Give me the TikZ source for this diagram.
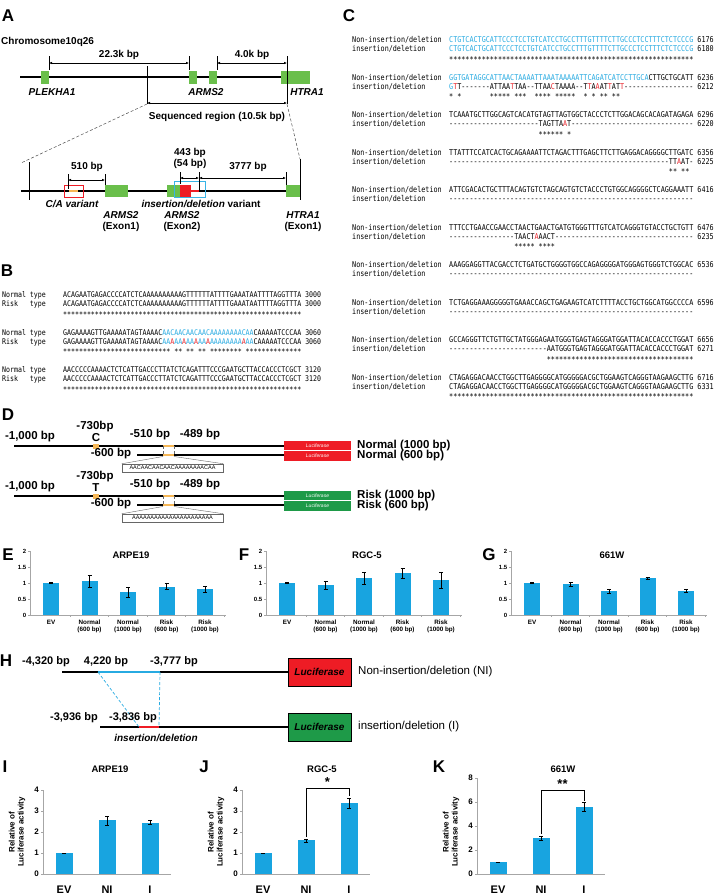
\documentclass[tikz,border=0pt]{standalone}
\usepackage{fontspec}
\setmainfont{Liberation Sans}
\setmonofont{DejaVu Sans Mono}[FakeStretch=0.845]
\usepackage{tikz}
\usetikzlibrary{arrows.meta, positioning}
\definecolor{geneGreen}{HTML}{6ABF4B}
\definecolor{lucGreen}{HTML}{1E9A48}
\definecolor{lucRed}{HTML}{EE1C25}
\definecolor{seqCyan}{HTML}{27AAE1}
\definecolor{seqRed}{HTML}{E8242B}
\definecolor{barBlue}{HTML}{18A4E0}
\definecolor{varOrange}{HTML}{F6B756}
\definecolor{axisGray}{HTML}{A6A6A6}
\definecolor{boxCyan}{HTML}{39B4E6}
\ExplSyntaxOn
\cs_new:Npn \rep #1#2 { \prg_replicate:nn {#1} {#2} }
\ExplSyntaxOff
\newcommand\gp{\hphantom{*}}
\newcommand\cy[1]{\textcolor{seqCyan}{#1}}
\newcommand\rd[1]{\textcolor{seqRed}{#1}}
\tikzset{
  panel/.style={inner sep=0, font=\fontsize{17}{17}\selectfont\bfseries},
  lbl/.style={inner sep=0, align=center, font=\fontsize{10}{11}\selectfont\bfseries},
  gname/.style={inner sep=0, font=\fontsize{10}{11}\selectfont\bfseries\itshape},
  dlbl/.style={inner sep=0, font=\fontsize{11.5}{12}\selectfont\bfseries},
  seqB/.style={inner sep=0, anchor=base west, font=\ttfamily\fontsize{7.8}{8}\selectfont},
  seqC/.style={inner sep=0, anchor=base west, font=\ttfamily\fontsize{8}{8}\selectfont},
  gene/.style={fill=geneGreen, inner sep=0, minimum height=13pt},
  dimarrow/.style={{Latex[length=3pt,width=2.6pt]}-{Latex[length=3pt,width=2.6pt]}, line width=0.6pt},
  dimtick/.style={line width=0.5pt},
  luc/.style={inner sep=0, minimum width=67pt, minimum height=9.5pt, text=white,
    font=\fontsize{5}{5}\selectfont\itshape},
  motif/.style={draw=black!60, line width=0.5pt, inner sep=0, minimum width=101pt,
    minimum height=8pt, font=\fontsize{5.5}{6}\selectfont},
  err/.style={line width=0.5pt},
  axisln/.style={draw=axisGray, line width=0.6pt},
  ttl/.style={inner sep=0, font=\fontsize{9.5}{10}\selectfont\bfseries},
  tk/.style={inner sep=0, font=\fontsize{6}{6}\selectfont\bfseries},
  tkb/.style={inner sep=0, font=\fontsize{8}{8}\selectfont\bfseries},
  cat/.style={inner sep=0, align=center, anchor=north, font=\fontsize{6.3}{7}\selectfont\bfseries},
  catb/.style={inner sep=0, font=\fontsize{11}{11}\selectfont\bfseries},
  ylab/.style={inner sep=0, rotate=90, align=center, font=\fontsize{8}{9}\selectfont\bfseries},
  hluc/.style={draw, line width=0.5pt, minimum width=63pt, minimum height=28pt, inner sep=0,
    font=\fontsize{10}{10}\selectfont\bfseries\itshape},
  hlbl/.style={inner sep=0, font=\fontsize{11}{12}\selectfont\bfseries},
}
\begin{document}
\begin{tikzpicture}[x=1pt, y=-1pt]
  \useasboundingbox (0,0) rectangle (713,895);

  % A: locus
  \node[panel] (pA) at (8,16) {A};
  \node[lbl, anchor=west] (chrom) at (1,42) {Chromosome10q26};
  \draw[line width=2.2pt] (20,77) -- (282,77);
  \node[gene, minimum width=8pt] (plek) at (45,77) {};
  \node[gene, minimum width=8pt] (arma) at (193,77) {};
  \node[gene, minimum width=8pt] (armb) at (213,77) {};
  \node[gene, minimum width=29pt] (htra) at (295.5,77) {};
  \draw[dimtick] (49,56) -- (49,70) (189,56) -- (189,70) (217,56) -- (217,70)
    (287,56) -- (287,104) (147,66) -- (147,104);
  \draw[dimarrow] (49,63) -- node[lbl, above=3.5pt] (d223) {22.3k bp} (189,63);
  \draw[dimarrow] (217,63) -- node[lbl, above=3.5pt] (d40) {4.0k bp} (287,63);
  \node[gname] (nplek) at (52,92) {PLEKHA1};
  \node[gname] (narm) at (206,92) {ARMS2};
  \node[gname] (nhtra) at (307,92) {HTRA1};
  \draw[dimarrow] (147,103) -- (287,103);
  \node[lbl] (seqreg) at (217,117) {Sequenced region (10.5k bp)};
  \draw[densely dashed, line width=0.5pt, black!70] (147,104) -- (21,163) (287,104) -- (300,159);

  % A: sequenced region
  \draw[line width=2pt] (21,191) -- (300,191);
  \draw[dimtick] (29,162) -- (29,200) (300,159) -- (300,200);
  \node[draw=lucRed, line width=0.8pt, minimum width=19pt, minimum height=12pt, inner sep=0] (cabox) at (73.5,191) {};
  \draw[varOrange, line width=2.5pt] (69,191) -- (78,191);
  \node[gene, minimum width=23pt, minimum height=12pt] (exa) at (116.5,191) {};
  \node[gene, minimum width=13pt, minimum height=12pt] (exb) at (173.5,191) {};
  \node[fill=lucRed, inner sep=0, minimum width=11pt, minimum height=13pt] (indel) at (185.5,191) {};
  \draw[lucRed, line width=1.5pt] (indel.east) -- (199,191);
  \node[draw=boxCyan, line width=1pt, inner sep=0, minimum width=31pt, minimum height=16pt] (indelbox) at (189.5,189.5) {};
  \node[gene, minimum width=14pt, minimum height=12pt] (exc) at (293,191) {};
  \draw[dimtick] (68,174) -- (68,189) (105,174) -- (105,185) (180,172) -- (180,184)
    (199,172) -- (199,191) (286,172) -- (286,185);
  \draw[dimarrow] (68,180) -- (105,180);
  \draw[dimarrow] (180,178) -- (199,178);
  \draw[dimarrow] (199,178) -- (286,178);
  \node[lbl] (l510) at (87,167) {510 bp};
  \node[lbl] (l443) at (190,158.5) {443 bp\\(54 bp)};
  \node[lbl] (l3777) at (248,167) {3777 bp};
  \node[gname] (lca) at (72,204) {C/A variant};
  \node[lbl] (lindel) at (201,204) {\textit{insertion/deletion} variant};
  \node[lbl] (lexa) at (121,222) {\textit{ARMS2}\\(Exon1)};
  \node[lbl] (lexb) at (182,222) {\textit{ARMS2}\\(Exon2)};
  \node[lbl] (lexc) at (303,222) {\textit{HTRA1}\\(Exon1)};

  % B: alignment
  \node[panel] (pB) at (7,271) {B};
  \foreach \k/\nrm/\rsk/\st in {
    0/{ACAGAATGAGACCCCATCTCAAAAAAAAAAGTTTTTTATTTTGAAATAATTTTAGGTTTA}/{ACAGAATGAGACCCCATCTCAAAAAAAAAAGTTTTTTATTTTGAAATAATTTTAGGTTTA}/{\rep{60}{*}},
    1/{GAGAAAAGTTGAAAAATAGTAAAAC\cy{AACAACAACAACAAAAAAAACAA}CAAAAATCCCAA}/{GAGAAAAGTTGAAAAATAGTAAAAC\cy{AA}\rd{A}\cy{AA}\rd{A}\cy{AA}\rd{A}\cy{AA}\rd{A}\cy{AAAAAAAA}\rd{A}\cy{AA}CAAAAATCCCAA}/{\rep{27}{*}\gp**\gp**\gp**\gp\rep{8}{*}\gp\rep{14}{*}},
    2/{AACCCCCAAAACTCTCATTGACCCTTATCTCAGATTTCCCGAATGCTTACCACCCTCGCT}/{AACCCCCAAAACTCTCATTGACCCTTATCTCAGATTTCCCGAATGCTTACCACCCTCGCT}/{\rep{60}{*}}}{
    \node[seqB] (bn\k) at (2,{297.9+37.5*\k}) {Normal\gp type};
    \node[seqB] (br\k) at (2,{306.9+37.5*\k}) {Risk\gp\gp\gp type};
    \node[seqB] (bsn\k) at (63,{297.9+37.5*\k}) {\nrm\gp\the\numexpr3000+60*\k\relax};
    \node[seqB] (bsr\k) at (63,{306.9+37.5*\k}) {\rsk\gp\the\numexpr3000+60*\k\relax};
    \node[seqB] (bst\k) at (63,{317.4+37.5*\k}) {\st};
  }

  % C: alignment
  \node[panel] (pC) at (349,16) {C};
  \foreach \k/\non/\nn/\ins/\ni/\st in {
    0/{\cy{CTGTCACTGCATTCCCTCCTGTCATCCTGCCTTTGTTTTCTTGCCCTCCTTTCTCTCCCG}}/6176/{\cy{CTGTCACTGCATTCCCTCCTGTCATCCTGCCTTTGTTTTCTTGCCCTCCTTTCTCTCCCG}}/6180/{\rep{60}{*}},
    1/{\cy{GGTGATAGGCATTAACTAAAATTAAATAAAAATTCAGATCATCCTTGCA}CTTGCTGCATT}/6236/{\cy{G}\rd{T}T\rep{7}{-}ATTAA\rd{T}TAA--TTAA\rd{C}TAAAA--T\rd{T}A\rd{A}AT\rd{T}AT\rd{T}\rep{17}{-}}/6212/{*\gp*\rep{7}{\gp}*****\gp***\gp\gp****\gp*****\gp\gp*\gp*\gp**\gp**},
    2/{TCAAATGCTTGGCAGTCACATGTAGTTAGTGGCTACCCTCTTGGACAGCACAGATAGAGA}/6296/{\rep{22}{-}TAGTTA\rd{A}T\rep{30}{-}}/6220/{\rep{22}{\gp}******\gp*},
    3/{TTATTTCCATCACTGCAGAAAATTCTAGACTTTGAGCTTCTTGAGGACAGGGGCTTGATC}/6356/{\rep{54}{-}TT\rd{A}AT-}/6225/{\rep{54}{\gp}**\gp**},
    4/{ATTCGACACTGCTTTACAGTGTCTAGCAGTGTCTACCCTGTGGCAGGGGCTCAGGAAATT}/6416/{\rep{60}{-}}/{}/{},
    5/{TTTCCTGAACCGAACCTAACTGAACTGATGTGGGTTTGTCATCAGGGTGTACCTGCTGTT}/6476/{\rep{16}{-}TAACT\rd{A}AACT\rep{34}{-}}/6235/{\rep{16}{\gp}*****\gp****},
    6/{AAAGGAGGTTACGACCTCTGATGCTGGGGTGGCCAGAGGGGATGGGAGTGGGTCTGGCAC}/6536/{\rep{60}{-}}/{}/{},
    7/{TCTGAGGAAAGGGGGTGAAACCAGCTGAGAAGTCATCTTTTACCTGCTGGCATGGCCCCA}/6596/{\rep{60}{-}}/{}/{},
    8/{GCCAGGGTTCTGTTGCTATGGGAGAATGGGTGAGTAGGGATGGATTACACCACCCTGGAT}/6656/{\rep{24}{-}AATGGGTGAGTAGGGATGGATTACACCACCCTGGAT}/6271/{\rep{24}{\gp}\rep{36}{*}},
    9/{CTAGAGGACAACCTGGCTTGAGGGGCATGGGGGACGCTGGAAGTCAGGGTAAGAAGCTTG}/6716/{CTAGAGGACAACCTGGCTTGAGGGGCATGGGGGACGCTGGAAGTCAGGGTAAGAAGCTTG}/6331/{\rep{60}{*}}}{
    \node[seqC] (cl\k) at (352,{42.9+37.5*\k}) {Non-insertion/deletion};
    \node[seqC] (cm\k) at (352,{51.9+37.5*\k}) {insertion/deletion};
    \node[seqC] (cn\k) at (449,{42.9+37.5*\k}) {\non\gp\nn};
    \node[seqC] (ci\k) at (449,{51.9+37.5*\k}) {\ins\gp\ni};
    \node[seqC] (cs\k) at (449,{62.4+37.5*\k}) {\st};
  }

  % D: constructs
  \node[panel] (pD) at (8,415) {D};
  \foreach \dy/\nt/\lc/\nm/\mt in {0/C/lucRed/Normal/AACAACAACAACAAAAAAAACAA,
      50/T/lucGreen/Risk/AAAAAAAAAAAAAAAAAAAAAA}{
    \begin{scope}[shift={(0,\dy)}]
      \draw[line width=1.3pt] (14,446) -- (284,446);
      \draw[line width=1.3pt] (137,455) -- (284,455);
      \fill[varOrange] (93,443.5) rectangle (99,448.5);
      \draw[varOrange, line width=2.5pt] (163,446) -- (174,446) (163,455) -- (174,455);
      \draw[densely dashed, line width=0.4pt, black!60] (163,446) -- (163,455) (174,446) -- (174,455);
      \node[motif] (mt\nm) at (172.5,468) {\mt};
      \draw[line width=0.4pt, black!60] (163,456.5) -- (mt\nm.north west) (174,456.5) -- (mt\nm.north east);
      \node[luc, fill=\lc] (lucl\nm) at (317.5,445.7) {Luciferase};
      \node[luc, fill=\lc, below=0.5pt of lucl\nm] (lucs\nm) {Luciferase};
      \node[dlbl, anchor=west] (nl\nm) at (357,446) {\nm{} (1000 bp)};
      \node[dlbl, anchor=west] (ns\nm) at (357,456) {\nm{} (600 bp)};
      \node[dlbl] (p1000\nm) at (30,437) {-1,000 bp};
      \node[dlbl] (p730\nm) at (95,427) {-730bp};
      \node[dlbl] (nt\nm) at (96,437.5) {\nt};
      \node[dlbl] (p510\nm) at (150,435) {-510 bp};
      \node[dlbl] (p489\nm) at (200,435) {-489 bp};
      \node[dlbl] (p600\nm) at (111,453.5) {-600 bp};
    \end{scope}
  }

  % E-G: luciferase assays
  \foreach \ax/\lt/\ttl/\vals in {
      30/E/ARPE19/{1/0.01,1.05/0.18,0.72/0.15,0.89/0.1,0.8/0.1},
      266/F/RGC-5/{1/0.01,0.93/0.12,1.15/0.2,1.3/0.15,1.1/0.25},
      511/G/661W/{1/0.01,0.96/0.06,0.75/0.06,1.15/0.03,0.75/0.04}}{
    \begin{scope}[shift={(\ax,615)}]
      \node[panel] (p\lt) at (-22,-60) {\lt};
      \node[ttl] (t\lt) at (101,-60) {\ttl};
      \draw[axisln] (0,-64) -- (0,0) -- (196,0);
      \foreach \t in {0,0.5,1,1.5,2}{
        \draw[axisln] (-2,{-32*\t}) -- (0,{-32*\t});
        \node[tk, anchor=east] at (-3.5,{-32*\t}) {\t};
      }
      \foreach \k in {1,...,5} \draw[axisln] ({1.75+38.5*\k},0) -- ++(0,2);
      \foreach \v/\e [count=\i] in \vals {
        \pgfmathsetmacro\bx{21+38.5*(\i-1)}
        \fill[barBlue] (\bx-8,0) rectangle (\bx+8,{-32*\v});
        \draw[err] (\bx,{-32*(\v-\e)}) -- (\bx,{-32*(\v+\e)})
          (\bx-2,{-32*(\v-\e)}) -- (\bx+2,{-32*(\v-\e)})
          (\bx-2,{-32*(\v+\e)}) -- (\bx+2,{-32*(\v+\e)});
      }
      \foreach \c [count=\i] in {EV,{Normal\\(600 bp)},{Normal\\(1000 bp)},{Risk\\(600 bp)},{Risk\\(1000 bp)}}
        \node[cat] at ({21+38.5*(\i-1)},4.5) {\c};
    \end{scope}
  }

  % H: indel constructs
  \node[panel] (pH) at (6,661) {H};
  \draw[line width=1.8pt] (62,672) -- (288,672);
  \draw[seqCyan, line width=2.4pt] (98,672) -- (160,672);
  \node[hlbl] (h4320) at (46,662) {-4,320 bp};
  \node[hlbl] (h4220) at (106,662) {4,220 bp};
  \node[hlbl] (h3777) at (174,662) {-3,777 bp};
  \node[hluc, fill=lucRed] (lucNI) at (319.5,672) {Luciferase};
  \node[anchor=west, inner sep=0, font=\fontsize{11.5}{12}\selectfont] (tNI) at (358,672) {Non-insertion/deletion (NI)};
  \draw[line width=1.8pt] (100,727) -- (288,727);
  \draw[lucRed, line width=2.4pt] (139,727) -- (159,727);
  \draw[densely dashed, seqCyan, line width=0.7pt] (98,672) -- (139,727) (160,672) -- (159,727);
  \node[hlbl] (h3936) at (74,718) {-3,936 bp};
  \node[hlbl] (h3836) at (133,718) {-3,836 bp};
  \node[gname] (hindel) at (156,738) {insertion/deletion};
  \node[hluc, fill=lucGreen] (lucI) at (319.5,727) {Luciferase};
  \node[anchor=west, inner sep=0, font=\fontsize{11.5}{12}\selectfont] (tI) at (358,727) {insertion/deletion (I)};

  % I-K: luciferase assays
  \foreach \ax/\lt/\ttl/\tx/\unit/\tmax/\tks/\vals in {
      43/I/ARPE19/67/21/4/{0,1,2,3,4}/{1/0.01,2.55/0.22,2.45/0.1},
      242/J/RGC-5/80/21/4/{0,1,2,3,4}/{1/0.01,1.6/0.07,3.38/0.25},
      477/K/661W/86/12/8/{0,2,4,6,8}/{1/0.02,3/0.15,5.6/0.35}}{
    \begin{scope}[shift={(\ax,874)}]
      \node[panel] (p\lt) at (-38,-107) {\lt};
      \node[ttl] (t\lt) at (\tx,-105) {\ttl};
      \node[ylab] (y\lt) at (-26,-42) {Relative of\\Luciferase activity};
      \draw[axisln] (0,{-\unit*\tmax}) -- (0,0) -- (128,0);
      \foreach \t in \tks{
        \draw[axisln] (-2,{-\unit*\t}) -- (0,{-\unit*\t});
        \node[tkb, anchor=east] at (-4,{-\unit*\t}) {\t};
      }
      \foreach \v/\e [count=\i] in \vals {
        \pgfmathsetmacro\bx{21+43*(\i-1)}
        \fill[barBlue] (\bx-8.5,0) rectangle (\bx+8.5,{-\unit*\v});
        \draw[err] (\bx,{-\unit*(\v-\e)}) -- (\bx,{-\unit*(\v+\e)})
          (\bx-2,{-\unit*(\v-\e)}) -- (\bx+2,{-\unit*(\v-\e)})
          (\bx-2,{-\unit*(\v+\e)}) -- (\bx+2,{-\unit*(\v+\e)});
      }
      \foreach \c [count=\i] in {EV,NI,I}
        \node[catb] at ({21+43*(\i-1)},16) {\c};
    \end{scope}
  }
  % significance brackets
  \draw[line width=0.6pt] (306,837) -- (306,788) -- (349,788) -- (349,796);
  \node[inner sep=0, font=\fontsize{13}{13}\selectfont\bfseries] (sigJ) at (327.5,782) {*};
  \draw[line width=0.6pt] (541,834) -- (541,790) -- (584,790) -- (584,801);
  \node[inner sep=0, font=\fontsize{13}{13}\selectfont\bfseries] (sigK) at (562.5,784) {**};
\end{tikzpicture}
\end{document}
